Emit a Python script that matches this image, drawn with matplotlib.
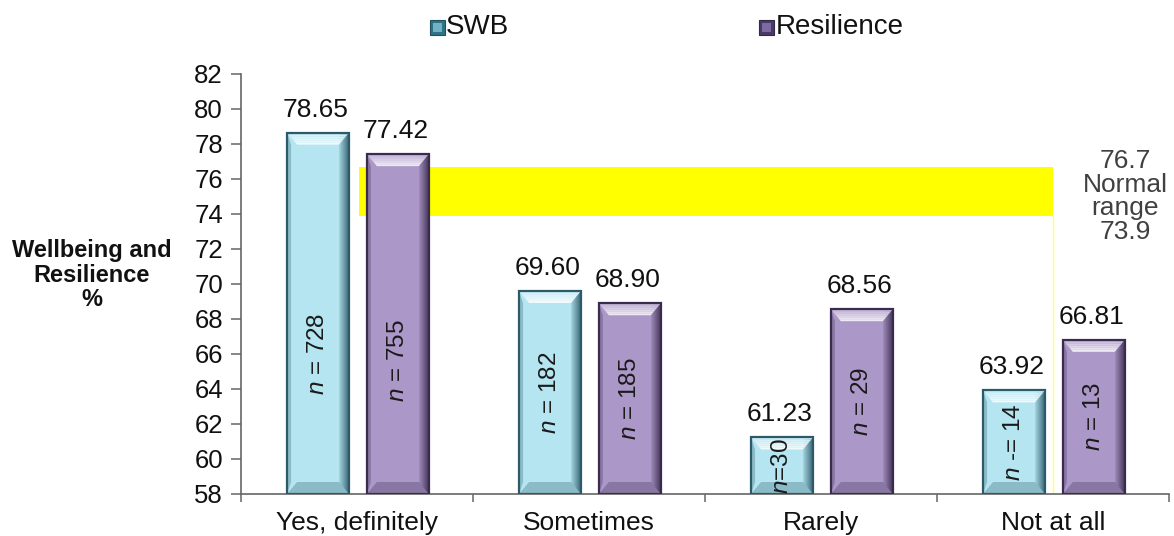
import matplotlib
matplotlib.use("Agg")
import matplotlib.pyplot as plt
from matplotlib.patches import Polygon, Rectangle
import matplotlib.colors as mcolors
import numpy as np

plt.rcParams['font.family'] = ['Liberation Sans', 'DejaVu Sans']
plt.rcParams['mathtext.fontset'] = 'custom'
plt.rcParams['mathtext.it'] = 'Liberation Sans:italic'
plt.rcParams['mathtext.rm'] = 'Liberation Sans'

# ---- data ----
categories = ["Yes, definitely", "Sometimes", "Rarely", "Not at all"]
swb = [78.65, 69.60, 61.23, 63.92]
resilience = [77.42, 68.90, 68.56, 66.81]
swb_n = ["$\\it{n}$ = 728", "$\\it{n}$ = 182", "$\\it{n}$=30", "$\\it{n}$ -= 14"]
res_n = ["$\\it{n}$ = 755", "$\\it{n}$ = 185", "$\\it{n}$ = 29", "$\\it{n}$ = 13"]
normal_low, normal_high = 73.9, 76.7
y_ticks = list(range(58, 83, 2))

# ---- styling ----
swb_face, swb_edge = "#b5e5f1", "#2c5a68"
res_face, res_edge = "#ab97c8", "#3a2c4e"
W, H, DPI = 11.74, 5.36, 100

fig = plt.figure(figsize=(W, H), dpi=DPI)
ax_l, ax_r, ax_b, ax_t = 241, 1169, 494, 74
ax = fig.add_axes([ax_l / 1174, (536 - ax_b) / 536,
                   (ax_r - ax_l) / 1174, (ax_b - ax_t) / 536])
ax.set_xlim(-0.5, 3.5)
ax.set_ylim(58, 82)

px_x = (ax_r - ax_l) / 4.0      # pixels per x unit
px_y = (ax_b - ax_t) / 24.0     # pixels per y unit

x = np.arange(len(categories))
bw = 0.267
off_swb, off_res = -0.168, 0.176


def mix(c, other, t):
    a = np.array(mcolors.to_rgb(c))
    b = np.array(mcolors.to_rgb(other))
    return tuple(a * (1 - t) + b * t)


def bevel_bar(xc, top, face, edge):
    x0, x1 = xc - bw / 2, xc + bw / 2
    y0, y1 = 58, top
    dx = 10 / px_x
    dy = 12 / px_y
    dy = min(dy, (y1 - y0) / 2.2)
    ax.add_patch(Rectangle((x0, y0), bw, y1 - y0, facecolor=face,
                           edgecolor="none", zorder=3))
    # right side shading strips
    n = 10
    for k in range(n):
        t = k / n
        xa = x1 - dx * (1 - t)
        ax.add_patch(Rectangle((xa, y0), dx / n + 1e-4, y1 - y0,
                               facecolor=mix(face, edge, 0.15 + 0.8 * t),
                               edgecolor="none", zorder=3.1))
    # left edge darker strip
    ax.add_patch(Polygon([(x0, y0), (x0, y1), (x0 + dx * 0.4, y1 - dy),
                          (x0 + dx * 0.4, y0 + dy)],
                         facecolor=mix(face, edge, 0.3), edgecolor="none",
                         zorder=3.2))
    # top facet, light gradient
    m = 6
    for k in range(m):
        t0, t1 = k / m, (k + 1) / m
        ax.add_patch(Polygon([(x0 + dx * t0, y1 - dy * t0),
                              (x1 - dx * t0, y1 - dy * t0),
                              (x1 - dx * t1, y1 - dy * t1),
                              (x0 + dx * t1, y1 - dy * t1)],
                             facecolor=mix(face, "white", 0.2 + 0.6 * t1),
                             edgecolor="none", zorder=3.3))
    # bottom facet (darker)
    ax.add_patch(Polygon([(x0, y0), (x1, y0), (x1 - dx, y0 + dy),
                          (x0 + dx, y0 + dy)],
                         facecolor=mix(face, edge, 0.3), edgecolor="none",
                         zorder=3.3))
    ax.add_patch(Rectangle((x0, y0), bw, y1 - y0, facecolor="none",
                           edgecolor=edge, linewidth=1.6, zorder=3.5))


# normal range band
ax.add_patch(Rectangle((0.01, normal_low), 3.0 - 0.01, normal_high - normal_low,
                       facecolor="#ffff00", edgecolor="none", zorder=1))
ax.plot([3.0, 3.0], [58, normal_low], color="#ffff66", lw=1.0, zorder=1)

for i in range(len(categories)):
    bevel_bar(x[i] + off_swb, swb[i], swb_face, swb_edge)
    bevel_bar(x[i] + off_res, resilience[i], res_face, res_edge)

# value labels above bars
for i in range(len(categories)):
    for xv, v in ((x[i] + off_swb, swb[i]), (x[i] + off_res, resilience[i])):
        ax.annotate(f"{v:.2f}", (xv - 0.01, v), xytext=(0, 8),
                    textcoords="offset points", ha="center", va="bottom",
                    fontsize=19, color="#111111", zorder=5)

# sample sizes inside bars
n_pos_swb = [66.0, None, None, None]
n_pos_res = [65.6, None, None, None]
for i in range(len(categories)):
    for xv, v, lab, p in ((x[i] + off_swb, swb[i], swb_n[i], n_pos_swb[i]),
                          (x[i] + off_res, resilience[i], res_n[i], n_pos_res[i])):
        yc = p if p is not None else (58 + v) / 2
        ax.text(xv, yc, lab, rotation=90, ha="center", va="center",
                fontsize=17.5, color="#1a1a1a", zorder=6)

ax.text(3.31, 75.0, f"{normal_high}\nNormal\nrange\n{normal_low}",
        ha="center", va="center", fontsize=19, color="#404040",
        linespacing=0.98, zorder=5)

# axes styling
for s in ("top", "right"):
    ax.spines[s].set_visible(False)
for s in ("left", "bottom"):
    ax.spines[s].set_color("#666666")
    ax.spines[s].set_linewidth(1.2)

ax.set_yticks(y_ticks)
ax.set_yticklabels([str(t) for t in y_ticks])
ax.tick_params(axis="y", length=7, width=1.1, color="#666666",
               labelsize=18.5, labelcolor="#111111", pad=6)
ax.set_xticks(x)
ax.set_xticklabels(categories)
ax.tick_params(axis="x", which="major", length=0, labelsize=19,
               labelcolor="#111111", pad=12)
ax.set_xticks(np.arange(-0.5, 4.0, 1.0), minor=True)
ax.tick_params(axis="x", which="minor", length=6, width=1.1, color="#666666")

fig.text(92 / 1174, 1 - 275 / 536, "Wellbeing and\nResilience\n%",
         ha="center", va="center", fontsize=17, fontweight="bold",
         color="#111111", linespacing=1.1)

# legend
def legend_key(xp, face, edge):
    s = 15
    yp = 536 - 35
    fig.add_artist(Rectangle((xp / 1174, yp / 536), s / 1174, s / 536,
                             transform=fig.transFigure, facecolor=edge,
                             edgecolor=mix(edge, "black", 0.3), lw=0.8))
    fig.add_artist(Rectangle(((xp + 3) / 1174, (yp + 3) / 536),
                             (s - 6) / 1174, (s - 6) / 536,
                             transform=fig.transFigure, facecolor=face,
                             edgecolor="none"))

legend_key(430, "#6fb3c4", "#2f7385")
fig.text(446 / 1174, 1 - 27 / 536, "SWB", ha="left", va="center",
         fontsize=20, color="#111111")
legend_key(759, "#7e6aa0", "#4a3a66")
fig.text(776 / 1174, 1 - 27 / 536, "Resilience", ha="left", va="center",
         fontsize=20, color="#111111")

fig.savefig("out.png", dpi=DPI)
